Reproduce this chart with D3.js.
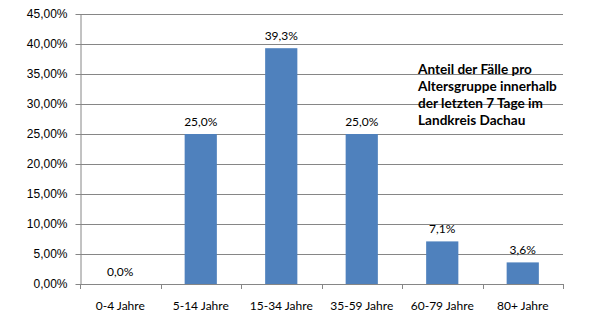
<!DOCTYPE html>
<html>
<head>
<meta charset="utf-8">
<script src="https://cdn.jsdelivr.net/npm/d3@7"></script>
<style>
  html, body { margin: 0; padding: 0; background: #fff; }
  svg { display: block; font-family: Lato, "Open Sans", sans-serif; }
</style>
</head>
<body>
<svg id="chart" width="602" height="331"></svg>
<script>
// Age groups and share of cases (percent)
const categories = ["0-4 Jahre", "5-14 Jahre", "15-34 Jahre", "35-59 Jahre", "60-79 Jahre", "80+ Jahre"];
const shares = [0.0, 25.0, 39.3, 25.0, 7.1, 3.6];
const yTicks = [0, 5, 10, 15, 20, 25, 30, 35, 40, 45];
const titleLines = ["Anteil der Fälle pro", "Altersgruppe innerhalb", "der letzten 7 Tage im", "Landkreis Dachau"];

const svg = d3.select("#chart");
const margin = { left: 80, right: 39, top: 14, bottom: 47 };
const W = 602, H = 331;
const x0 = margin.left, x1 = W - margin.right;
const yTop = margin.top, yBot = H - margin.bottom;

const x = d3.scaleBand().domain(categories).range([x0, x1]).paddingInner(0.6).paddingOuter(0.3);
const y = d3.scaleLinear().domain([0, 45]).range([yBot, yTop]);

const fmtAxis = d => d.toFixed(2).replace(".", ",") + "%";
const fmtLabel = d => d.toFixed(1).replace(".", ",") + "%";

// horizontal gridlines
svg.append("g").selectAll("line").data(yTicks.filter(d => d > 0)).join("line")
  .attr("x1", x0).attr("x2", x1)
  .attr("y1", d => Math.round(y(d)) + 0.5).attr("y2", d => Math.round(y(d)) + 0.5)
  .attr("stroke", "#868686").attr("stroke-width", 1);

// y axis
const yAxis = svg.append("g").attr("transform", `translate(${x0 + 0.5},0)`)
  .call(d3.axisLeft(y).tickValues(yTicks).tickFormat(fmtAxis).tickSizeInner(5).tickSizeOuter(0).tickPadding(8));
yAxis.select(".domain").attr("stroke", "#868686");
yAxis.selectAll(".tick line").attr("stroke", "#868686");
yAxis.selectAll(".tick text").attr("fill", "#000").attr("font-size", "12px");
yAxis.selectAll(".tick").attr("transform", d => `translate(0,${Math.round(y(d)) + 0.5})`);

// x axis line with ticks between categories
const xg = svg.append("g");
xg.append("line").attr("x1", x0).attr("x2", x1)
  .attr("y1", Math.round(yBot) + 0.5).attr("y2", Math.round(yBot) + 0.5)
  .attr("stroke", "#868686");
const bounds = d3.range(categories.length + 1).map(i => x0 + i * (x1 - x0) / categories.length);
xg.selectAll("line.tk").data(bounds).join("line").attr("class", "tk")
  .attr("x1", d => Math.round(d) + 0.5).attr("x2", d => Math.round(d) + 0.5)
  .attr("y1", Math.round(yBot)).attr("y2", Math.round(yBot) + 5)
  .attr("stroke", "#868686");
xg.selectAll("text").data(categories).join("text")
  .attr("x", d => x(d) + x.bandwidth() / 2)
  .attr("y", yBot + 26)
  .attr("text-anchor", "middle")
  .attr("font-size", "12px").attr("fill", "#000")
  .text(d => d);

// bars
svg.append("g").selectAll("rect").data(categories).join("rect")
  .attr("x", d => x(d))
  .attr("width", x.bandwidth())
  .attr("y", (d, i) => y(shares[i]))
  .attr("height", (d, i) => y(0) - y(shares[i]))
  .attr("fill", "#4F81BD");

// value labels
svg.append("g").selectAll("text").data(categories).join("text")
  .attr("x", d => x(d) + x.bandwidth() / 2)
  .attr("y", (d, i) => y(shares[i]) - 8)
  .attr("text-anchor", "middle")
  .attr("font-size", "12px").attr("fill", "#000")
  .text((d, i) => fmtLabel(shares[i]));

// title block
svg.append("g").selectAll("text").data(titleLines).join("text")
  .attr("x", 418)
  .attr("y", (d, i) => 74 + i * 17)
  .attr("font-size", "13.6px").attr("font-weight", "bold").attr("fill", "#000")
  .text(d => d);
</script>
</body>
</html>
